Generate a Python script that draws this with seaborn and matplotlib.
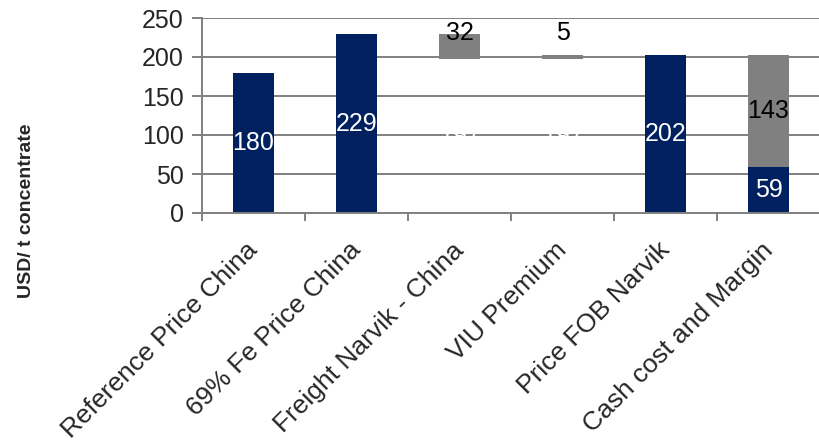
import matplotlib
matplotlib.use("Agg")
import matplotlib.pyplot as plt
import matplotlib.transforms as mtransforms
import seaborn as sns
import numpy as np

categories = ["Reference Price China", "69% Fe Price China", "Freight Narvik - China",
              "VIU Premium", "Price FOB Narvik", "Cash cost and Margin"]
hidden_base = [0, 0, 197, 197, 0, 0]
navy_values = [180, 229, 0, 0, 202, 59]
gray_values = [0, 0, 32, 5, 0, 143]
gray_bottom = [0, 0, 197, 197, 0, 59]

NAVY = "#002060"
GRAY = "#808080"

sns.set_style("white")
plt.rcParams["font.family"] = ["Liberation Sans", "DejaVu Sans"]

fig = plt.figure(figsize=(8.2, 4.43), dpi=100)
ax = fig.add_axes([202 / 820, 1 - 213 / 443, 618 / 820, 195 / 443])

sns.barplot(x=categories, y=navy_values, color=NAVY, width=0.4, ax=ax,
            saturation=1, zorder=3, linewidth=0)
sns.barplot(x=categories, y=gray_values, bottom=gray_bottom, color=GRAY, width=0.4,
            ax=ax, saturation=1, zorder=3, linewidth=0)

fs = 18
for i, v in enumerate(navy_values):
    if v:
        ax.text(i, v / 2, f"{v}", color="white", ha="center", va="center",
                fontsize=fs, zorder=4)
for i, v in enumerate(hidden_base):
    if v:
        ax.text(i, v / 2, f"{v}", color="white", ha="center", va="center",
                fontsize=fs, zorder=4)
for i, v in enumerate(gray_values):
    if v:
        if hidden_base[i]:
            y = 231
        else:
            y = gray_bottom[i] + v / 2
        ax.text(i, y, f"{v}", color="black", ha="center", va="center",
                fontsize=fs, zorder=4)

ax.set_ylim(0, 250)
ax.set_xlim(-0.5, len(categories) - 0.5)
ax.set_yticks(np.arange(0, 251, 50))
ax.yaxis.grid(True, color=GRAY, linewidth=1.4, zorder=0)
ax.set_axisbelow(True)
for s in ["top", "right"]:
    ax.spines[s].set_visible(False)
for s in ["left", "bottom"]:
    ax.spines[s].set_color(GRAY)
    ax.spines[s].set_linewidth(1.4)
    ax.spines[s].set_zorder(5)

ax.tick_params(axis="y", which="major", direction="out", length=7, width=1.4,
               color=GRAY, labelsize=fs, pad=6, left=True)
ax.set_xticks(np.arange(len(categories)))
ax.set_xticklabels(categories, rotation=45, ha="right", rotation_mode="anchor",
                   fontsize=19)
ax.tick_params(axis="x", which="major", length=0, pad=18)
shift = mtransforms.ScaledTranslation(-8 / 100, 0, fig.dpi_scale_trans)
for lbl in ax.get_xticklabels():
    lbl.set_transform(lbl.get_transform() + shift)
ax.set_xticks(np.arange(-0.5, len(categories), 1), minor=True)
ax.tick_params(axis="x", which="minor", direction="out", length=6, width=1.4,
               color=GRAY, bottom=True)
ax.set_xlabel("")
ax.set_ylabel("")

fig.text(27 / 820, 1 - 211 / 443, "USD/ t concentrate", rotation=90, ha="center",
         va="center", fontsize=14, fontweight="bold")

fig.savefig("out.png", dpi=100)
